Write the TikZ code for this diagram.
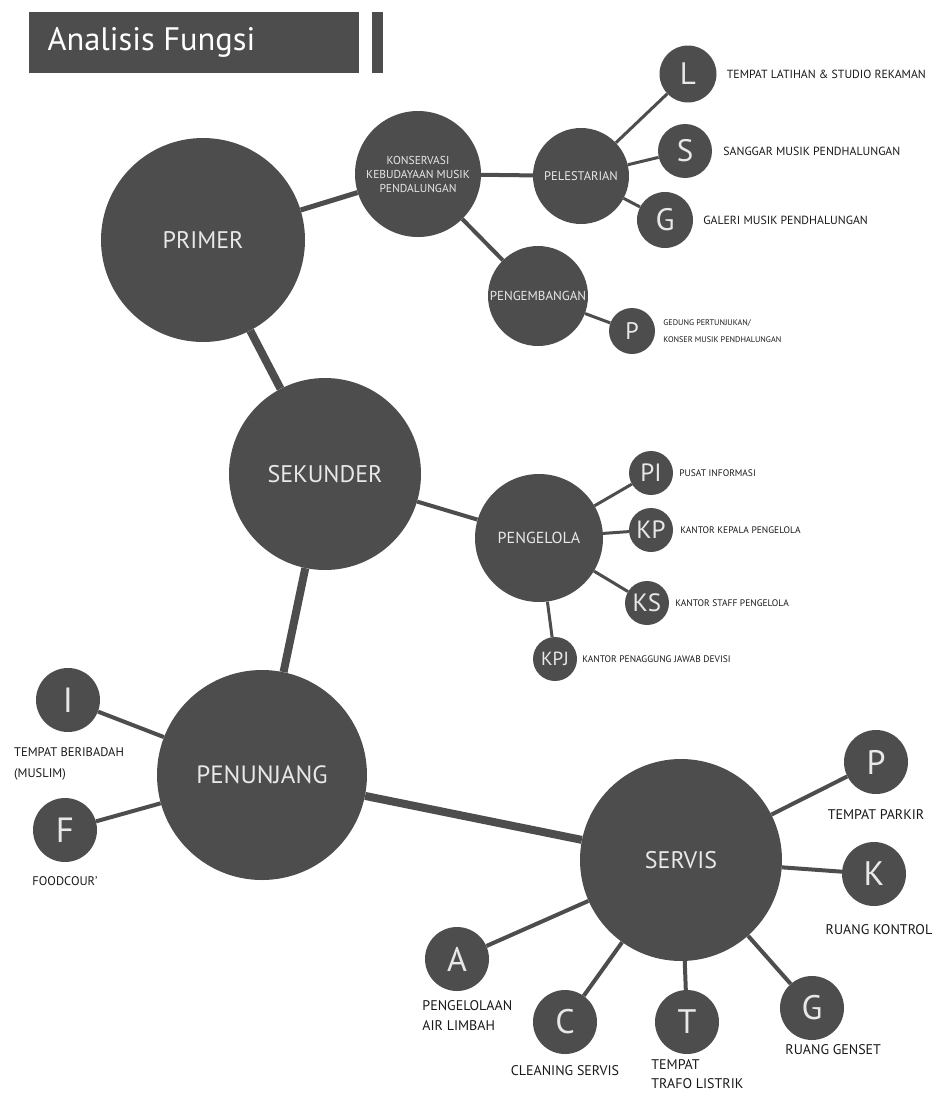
\documentclass[tikz,border=0pt]{standalone}
\usepackage{fontspec}
\setmainfont{PT Sans}
\usetikzlibrary{positioning}

\definecolor{bubgray}{HTML}{4D4D4D}
\definecolor{bubtext}{HTML}{E8E8E8}
\newcommand{\fsz}[2]{\fontsize{#1}{#2}\selectfont}

\begin{document}
\begin{tikzpicture}[x=1pt,y=-1pt,
  bubble/.style={circle, fill=bubgray, text=bubtext, inner sep=0pt, minimum size=#1, align=center},
  link/.style={draw=bubgray, line width=#1},
  link/.default=3pt,
  desc/.style={text=black!90, inner sep=0pt, align=left, font=\fsz{#1}{#1}},
]
\useasboundingbox (0,0) rectangle (936,1096);
% title bar
\fill[bubgray] (29,12) rectangle (359,73);
\fill[bubgray] (372,12) rectangle (383,73);
\node[anchor=west, text=white, font=\fsz{32.5}{33}] (title) at (44,42) {Analisis Fungsi};

% primer branch
\node[bubble=204pt, font=\fsz{24}{26}] (primer) at (203,240) {PRIMER};
\node[bubble=126pt, font=\fsz{11.5}{14}] (konservasi) at (418,174) {KONSERVASI\\KEBUDAYAAN MUSIK\\PENDALUNGAN};
\node[bubble=96pt, font=\fsz{12.5}{14}] (pelestarian) at (581,176) {PELESTARIAN};
\node[bubble=100pt, font=\fsz{13}{15}] (pengembangan) at (538,296) {PENGEMBANGAN};
\node[bubble=57pt, font=\fsz{31}{31}] (latihan) at (688,74) {L};
\node[bubble=54pt, font=\fsz{31}{31}] (sanggar) at (685,151) {S};
\node[bubble=56pt, font=\fsz{31}{31}] (galeri) at (665,220) {G};
\node[bubble=46pt, font=\fsz{24}{24}] (gedung) at (632,331) {P};
\node[desc=11.8, right=10pt of latihan] (latihanlbl) {TEMPAT LATIHAN \& STUDIO REKAMAN};
\node[desc=11.8, right=11pt of sanggar] (sanggarlbl) {SANGGAR MUSIK PENDHALUNGAN};
\node[desc=11.8, right=10pt of galeri] (galerilbl) {GALERI MUSIK PENDHALUNGAN};
\node[desc=8.2, right=8pt of gedung, font=\fsz{8.2}{17}] (gedunglbl) {GEDUNG PERTUNJUKAN/\\KONSER MUSIK PENDHALUNGAN};

% sekunder branch
\node[bubble=192pt, font=\fsz{24}{26}] (sekunder) at (325,474) {SEKUNDER};
\node[bubble=128pt, font=\fsz{16}{18}] (pengelola) at (539,538) {PENGELOLA};
\node[bubble=44pt, font=\fsz{25}{25}] (pusat) at (651,473) {PI};
\node[bubble=44pt, font=\fsz{25}{25}] (kepala) at (651,530) {KP};
\node[bubble=44pt, font=\fsz{25}{25}] (staff) at (647,603) {KS};
\node[bubble=44pt, font=\fsz{19}{19}] (jawab) at (555,659) {KPJ};
\node[desc=9.5, right=6pt of pusat] (pusatlbl) {PUSAT INFORMASI};
\node[desc=9.5, right=7pt of kepala] (kepalalbl) {KANTOR KEPALA PENGELOLA};
\node[desc=9.5, right=6pt of staff] (stafflbl) {KANTOR STAFF PENGELOLA};
\node[desc=9.5, right=5pt of jawab] (jawablbl) {KANTOR PENAGGUNG JAWAB DEVISI};

% penunjang branch
\node[bubble=210pt, font=\fsz{25}{27}] (penunjang) at (262,775) {PENUNJANG};
\node[bubble=64pt, font=\fsz{35}{35}] (ibadah) at (68,700) {I};
\node[bubble=64pt, font=\fsz{35}{35}] (food) at (65,830) {F};
\node[desc=12.5, font=\fsz{12.5}{21}, anchor=north west] (ibadahlbl) at (14,747) {TEMPAT BERIBADAH\\(MUSLIM)};
\node[desc=12.5, below=14pt of food] (foodlbl) {FOODCOUR'};

% servis branch
\node[bubble=202pt, font=\fsz{24}{26}] (servis) at (681,860) {SERVIS};
\node[bubble=64pt, font=\fsz{34}{34}] (parkir) at (876,762) {P};
\node[bubble=64pt, font=\fsz{34}{34}] (kontrol) at (874,874) {K};
\node[bubble=64pt, font=\fsz{34}{34}] (limbah) at (457,959) {A};
\node[bubble=64pt, font=\fsz{34}{34}] (cleaning) at (565,1022) {C};
\node[bubble=64pt, font=\fsz{34}{34}] (trafo) at (687,1022) {T};
\node[bubble=64pt, font=\fsz{34}{34}] (genset) at (812,1008) {G};
\node[desc=14, below=15pt of parkir] (parkirlbl) {TEMPAT PARKIR};
\node[desc=14, below=18pt of kontrol, xshift=5pt] (kontrollbl) {RUANG KONTROL};
\node[desc=14, font=\fsz{14}{20}, below=19pt of limbah.south west, anchor=north west, xshift=-12pt] (limbahlbl) {PENGELOLAAN\\AIR LIMBAH};
\node[desc=14, below=11pt of cleaning] (cleaninglbl) {CLEANING SERVIS};
\node[desc=14, font=\fsz{14}{19}, below=15pt of trafo.south west, anchor=north west, xshift=-13pt] (trafolbl) {TEMPAT\\TRAFO LISTRIK};
\node[desc=14, below=14pt of genset.south west, anchor=north west, xshift=-4pt] (gensetlbl) {RUANG GENSET};

% connectors
\draw[link=8pt] (primer) -- (sekunder);
\draw[link=8pt] (sekunder) -- (penunjang);
\draw[link=8pt] (penunjang) -- (servis);
\draw[link=5pt] (primer) -- (konservasi);
\draw[link=4pt] (konservasi) -- (pelestarian);
\draw[link=4pt] (konservasi) -- (pengembangan);
\foreach \leaf in {latihan,sanggar,galeri}
  \draw[link] (pelestarian) -- (\leaf);
\draw[link] (pengembangan) -- (gedung);
\draw[link=4pt] (sekunder) -- (pengelola);
\foreach \leaf in {pusat,kepala,staff,jawab}
  \draw[link] (pengelola) -- (\leaf);
\foreach \leaf in {ibadah,food}
  \draw[link=4pt] (penunjang) -- (\leaf);
\foreach \leaf in {parkir,kontrol,limbah,cleaning,trafo,genset}
  \draw[link=4pt] (servis) -- (\leaf);
\end{tikzpicture}
\end{document}
